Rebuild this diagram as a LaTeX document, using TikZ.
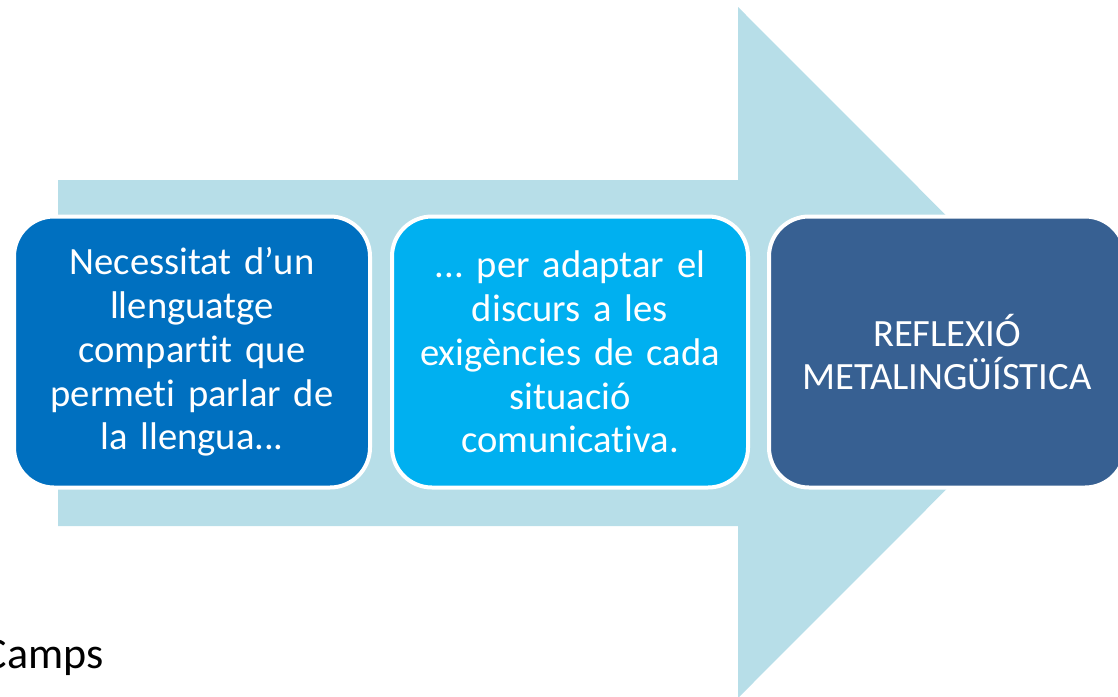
\documentclass[tikz,border=0pt]{standalone}
\usepackage{fontspec}
\setmainfont{Carlito}[Ligatures=NoCommon]
\usetikzlibrary{positioning}
\frenchspacing
\definecolor{arrowblue}{HTML}{B7DEE8}
\definecolor{stepone}{HTML}{0070C0}
\definecolor{steptwo}{HTML}{00B0F0}
\definecolor{stepthree}{HTML}{376092}
\tikzset{
  stepbox/.style={draw=white, line width=2pt, rounded corners=20pt,
    minimum width=178pt, minimum height=135.5pt, text width=174pt,
    align=center, text=white, inner sep=0pt,
    font=\fontsize{19.3}{21.9}\selectfont}
}
\begin{document}
\begin{tikzpicture}[x=0.5pt,y=-0.5pt]
\useasboundingbox (0,0) rectangle (1118,696);
\clip (0,0) rectangle (1118,696);
%big arrow behind the boxes
\fill[arrowblue] (58,180) -- (738,180) -- (738,7) -- (1083,352.5) -- (738,698) -- (738,526) -- (58,526) -- cycle;
\node[stepbox, fill=stepone] (need) at (192,352) {Necessitat d’un\\ llenguatge\\ compartit que\\ permeti parlar de\\ la llengua...};
\node[stepbox, fill=steptwo, right=9pt of need] (adapt) {... per adaptar el\\ discurs a les\\ exigències de cada\\ situació\\ comunicativa.};
\node[stepbox, fill=stepthree, right=8.5pt of adapt] (reflex) {REFLEXIÓ\\ METALINGÜÍSTICA};
\node[anchor=base east, inner sep=0pt, font=\fontsize{22}{26}\selectfont] (camps) at (104,668) {Camps};
\end{tikzpicture}
\end{document}
